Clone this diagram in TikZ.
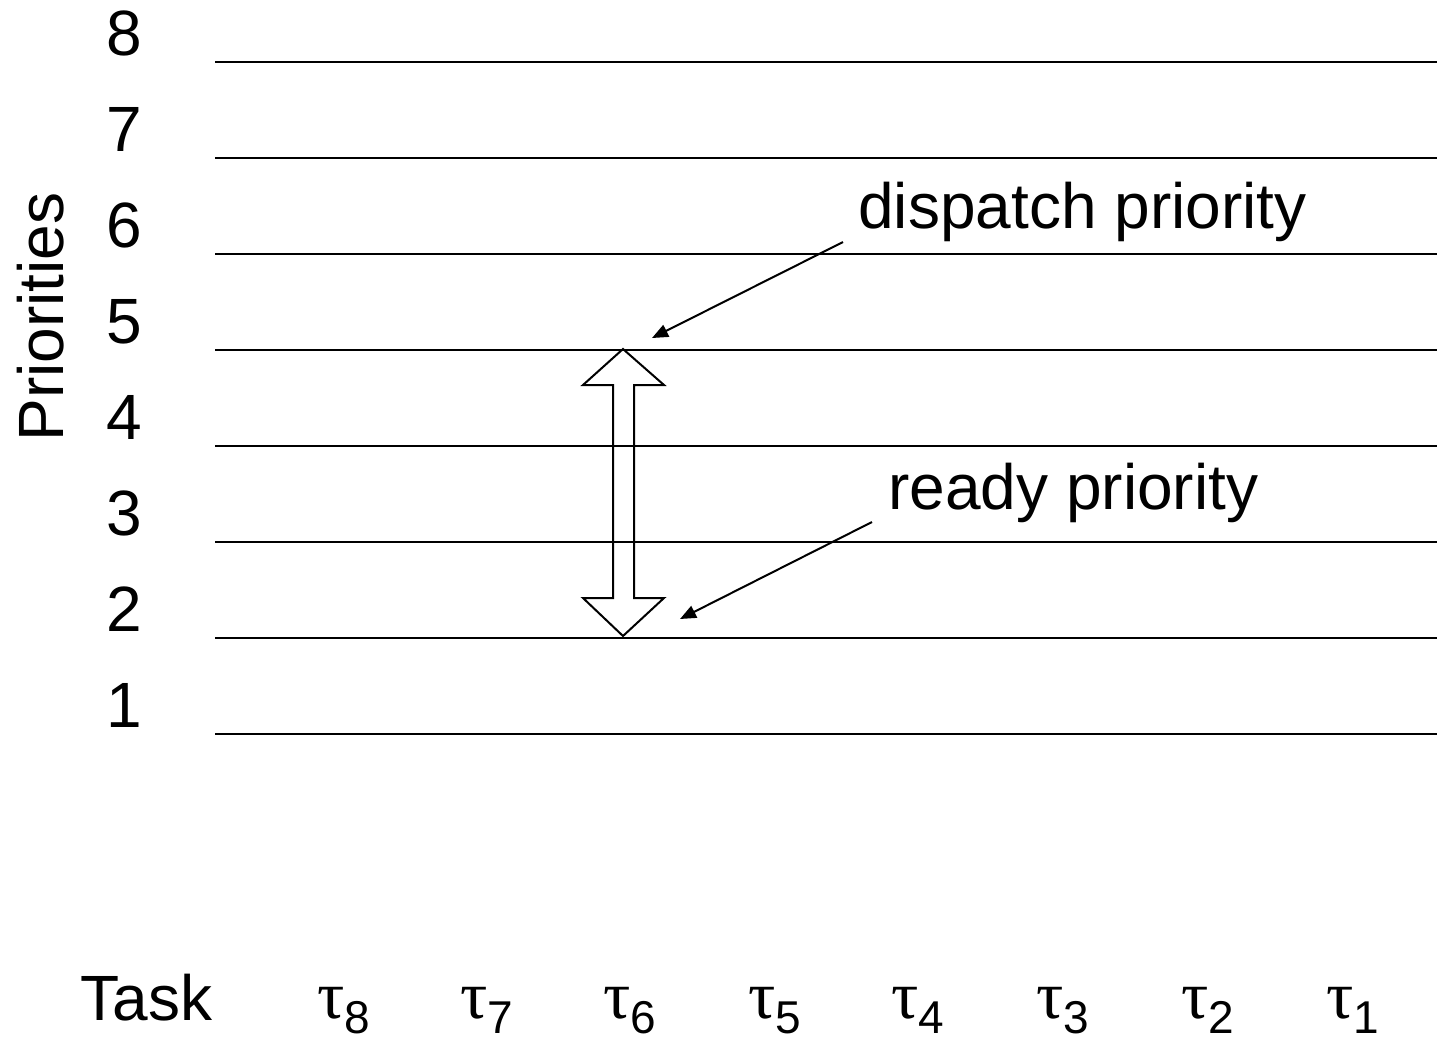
\documentclass[tikz,border=0pt]{standalone}
\usepackage{fontspec}
\setmainfont{Liberation Sans}
\newfontfamily\greekfont{Liberation Serif}
\usetikzlibrary{arrows.meta}
\begin{document}
\begin{tikzpicture}[x=0.5pt,y=-0.5pt,
  lbl/.style={inner sep=0pt,font=\fontsize{32}{38}\selectfont},
  prioline/.style={line width=1pt},
  pointer/.style={line width=1pt,-{Triangle[length=8pt,width=6.5pt]}},
  blockarrow/.style={line width=1pt,line join=miter}]
\useasboundingbox (0,0) rectangle (1437,1041);
% priority levels
\foreach \p [evaluate=\p as \yy using {62+96*(8-\p)}] in {1,...,8}{
  \coordinate (L\p a) at (215,\yy);
  \coordinate (L\p b) at (1437,\yy);
  \draw[prioline] (L\p a) -- (L\p b);
  \node[lbl,anchor=base] (n\p) at (124,\yy-7) {\p};
}
\node[lbl,anchor=base,rotate=90] (prio) at (63,317) {Priorities};
% tasks
\node[lbl,anchor=base west] (task) at (80,1020) {Task};
\foreach \k/\xx in {8/317,7/460,6/603,5/748,4/891,3/1036,2/1181,1/1326}{
  \node[lbl,anchor=base west] (t\k) at (\xx,1018)
    {{\greekfont\fontsize{34}{40}\selectfont τ}{\fontsize{23}{28}\selectfont\raisebox{-7.5pt}{\smash{\k}}}};
}
% labels
\node[lbl,anchor=base west] (disp) at (858,228) {dispatch priority};
\node[lbl,anchor=base west] (ready) at (888,509) {ready priority};
\coordinate (dA) at (843,242);
\coordinate (dB) at (652,338);
\coordinate (rA) at (872,522);
\coordinate (rB) at (680,619);
\draw[pointer] (dA) -- (dB);
\draw[pointer] (rA) -- (rB);
% double block arrow
\draw[blockarrow] (623,349) -- (664,385) -- (634,385) -- (634,598) -- (664,598)
  -- (623,636) -- (583,598) -- (613,598) -- (613,385) -- (583,385) -- cycle;
\end{tikzpicture}
\end{document}
